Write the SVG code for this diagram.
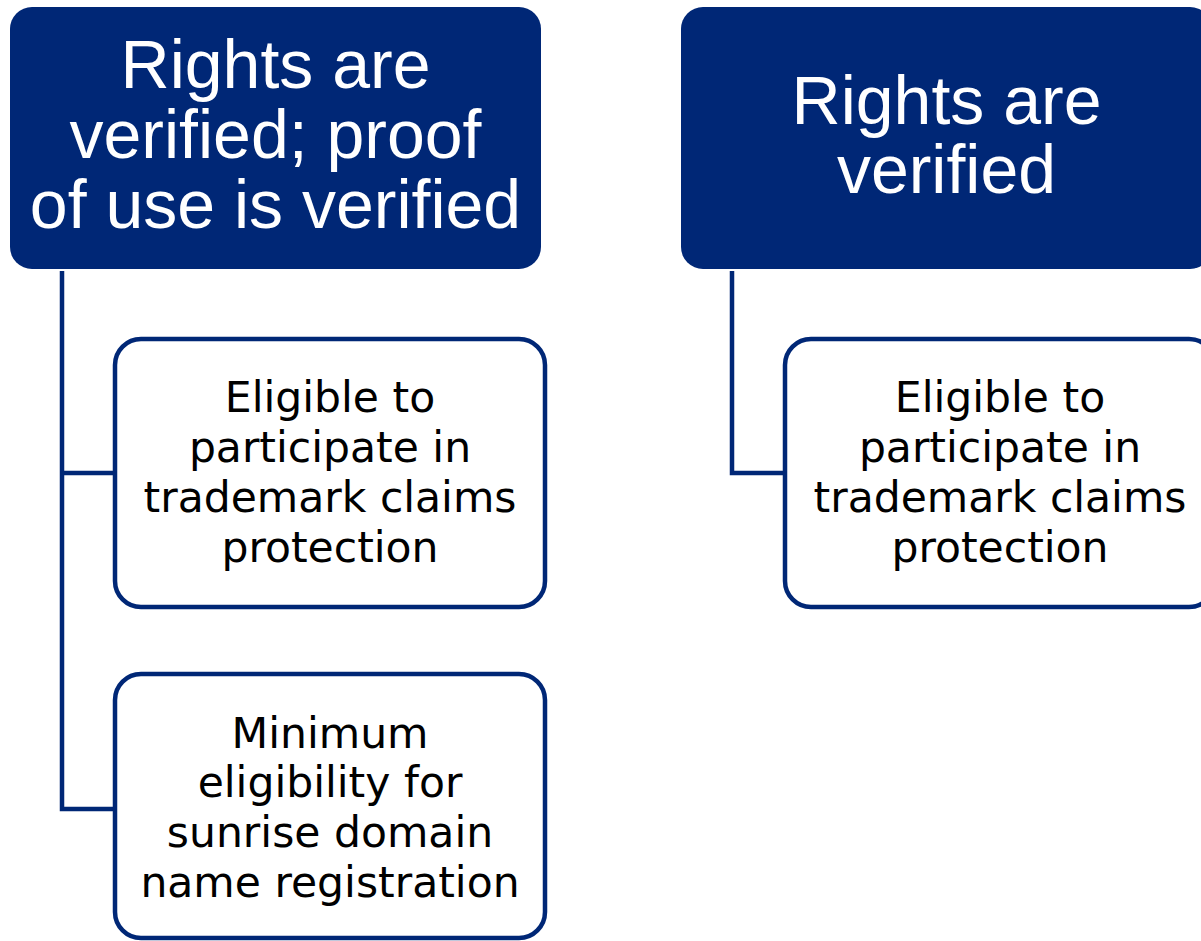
<svg xmlns="http://www.w3.org/2000/svg" width="1201" height="941" viewBox="0 0 1201 941">
<style>
.hdr{fill:#002776;}
.hdrt{font-family:"Liberation Sans",Arial,sans-serif;font-size:68px;fill:#ffffff;text-anchor:middle;}
.box{fill:#ffffff;stroke:#002776;stroke-width:4.5;}
.boxt{font-family:"DejaVu Sans",Verdana,sans-serif;font-size:42.5px;fill:#000000;text-anchor:middle;}
.conn{fill:none;stroke:#002776;stroke-width:4.5;stroke-linejoin:miter;}
</style>
<rect width="1201" height="941" fill="#ffffff"/>
<g id="connectors">
<path class="conn" d="M62 271 V809 H115 M62 473 H115"/>
<path class="conn" d="M732 271 V473 H785"/>
</g>
<g id="header-left">
<rect class="hdr" x="10" y="7" width="531" height="262" rx="22"/>
<text class="hdrt" x="275.5" y="88">Rights are</text>
<text class="hdrt" x="275.5" y="158">verified; proof</text>
<text class="hdrt" x="275.5" y="228">of use is verified</text>
</g>
<g id="header-right">
<rect class="hdr" x="681" y="7" width="531" height="262" rx="22"/>
<text class="hdrt" x="946.5" y="124">Rights are</text>
<text class="hdrt" x="946.5" y="193">verified</text>
</g>
<g id="child-left-1">
<rect class="box" x="115" y="339" width="430" height="268" rx="26"/>
<text class="boxt" x="330" y="412">Eligible to</text>
<text class="boxt" x="330" y="462">participate in</text>
<text class="boxt" x="330" y="512">trademark claims</text>
<text class="boxt" x="330" y="562">protection</text>
</g>
<g id="child-left-2">
<rect class="box" x="115" y="674" width="430" height="264" rx="26"/>
<text class="boxt" x="330" y="748">Minimum</text>
<text class="boxt" x="330" y="797">eligibility for</text>
<text class="boxt" x="330" y="847">sunrise domain</text>
<text class="boxt" x="330" y="897">name registration</text>
</g>
<g id="child-right-1">
<rect class="box" x="785" y="339" width="430" height="268" rx="26"/>
<text class="boxt" x="1000" y="412">Eligible to</text>
<text class="boxt" x="1000" y="462">participate in</text>
<text class="boxt" x="1000" y="512">trademark claims</text>
<text class="boxt" x="1000" y="562">protection</text>
</g>
</svg>
